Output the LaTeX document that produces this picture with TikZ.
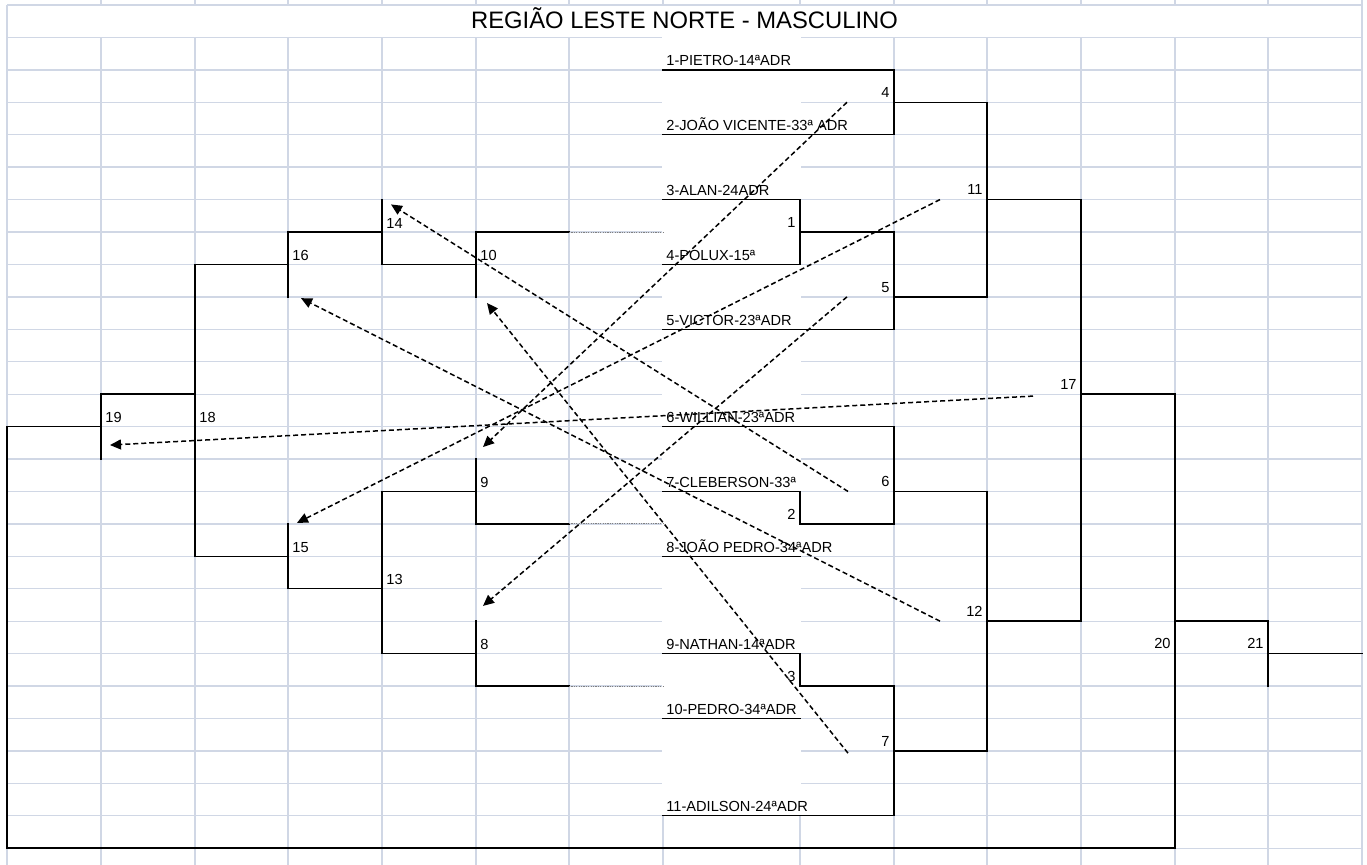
\documentclass[tikz,border=0pt]{standalone}
\usepackage{fontspec}
\setmainfont{Liberation Sans}
\usetikzlibrary{arrows.meta}
\definecolor{gridblue}{RGB}{208,215,229}

\begin{document}
\begin{tikzpicture}[x=0.5pt, y=-16.215pt, font=\fontsize{7.3}{8}\selectfont,
    gridline/.style={draw=gridblue, line width=0.65pt},
    bracket/.style={draw, line width=0.75pt, line join=miter, line cap=rect},
    byeline/.style={draw=gray, line width=0.5pt, dash pattern=on 0.6pt off 0.6pt},
    fixture/.style={draw, line width=0.75pt, dash pattern=on 2.5pt off 1.5pt, -{Triangle[length=5.5pt, width=5pt]}},
    player/.style={anchor=base west, inner sep=0pt},
    gameleft/.style={anchor=base west, inner sep=0pt},
    gameright/.style={anchor=base east, inner sep=0pt}]
        \useasboundingbox (0,-0.154) rectangle (1367,26.518);

        % Grid
        \foreach \k in {0,...,26}
            \draw[gridline] (7,\k) -- (1362,\k);
        \foreach \x in {101,195,288,382,476,569,663,800,894,987,1081,1175,1268} {
            \draw[gridline] (\x,-0.154) -- (\x,0);
            \draw[gridline] (\x,1) -- (\x,26.518);
        }
        \draw[gridline] (7,0) -- (7,26.518);
        \draw[gridline] (1362,-0.154) -- (1362,26.518);
        \fill[white] (661.6,0.98) rectangle (801.4,25);

        \node[anchor=base, inner sep=0pt, font=\fontsize{11.9}{14}\selectfont] (title) at (684.5,0.71) {REGIÃO LESTE NORTE - MASCULINO};

        % Upper half, right side
        \node[player] (p1) at (666,1.88) {1-PIETRO-14ªADR};
        \node[player] (p2) at (666,3.88) {2-JOÃO VICENTE-33ª ADR};
        \node[player] (p3) at (666,5.88) {3-ALAN-24ADR};
        \node[player] (p4) at (666,7.88) {4-POLUX-15ª};
        \node[player] (p5) at (666,9.88) {5-VICTOR-23ªADR};
        \draw[bracket] (663,2) -- (894,2) -- (894,4) -- (663,4);
        \draw[bracket] (894,3) -- (987,3);
        \draw[bracket] (663,6) -- (800,6) -- (800,8) -- (663,8);
        \draw[bracket] (800,7) -- (894,7) -- (894,10) -- (663,10);
        \draw[bracket] (894,9) -- (987,9);
        \draw[bracket] (987,3) -- (987,9);
        \draw[bracket] (987,6) -- (1081,6) -- (1081,19);
        \draw[bracket] (1081,12) -- (1175,12) -- (1175,26);
        \node[gameright] (m4) at (890,2.85) {4};
        \node[gameright] (m1) at (796,6.85) {1};
        \node[gameright] (m5) at (890,8.85) {5};
        \node[gameright] (m11) at (983,5.85) {11};
        \node[gameright] (m17) at (1077,11.85) {17};

        % Lower half, right side
        \node[player] (p6) at (666,12.88) {6-WILLIAN-23ªADR};
        \node[player] (p7) at (666,14.88) {7-CLEBERSON-33ª};
        \node[player] (p8) at (666,16.88) {8-JOÃO PEDRO-34ªADR};
        \node[player] (p9) at (666,19.88) {9-NATHAN-14ªADR};
        \node[player] (p10) at (666,21.88) {10-PEDRO-34ªADR};
        \node[player] (p11) at (666,24.88) {11-ADILSON-24ªADR};
        \draw[bracket] (663,13) -- (894,13) -- (894,16);
        \draw[bracket] (663,15) -- (800,15) -- (800,16) -- (894,16);
        \draw[bracket] (663,17) -- (800,17);
        \draw[bracket] (894,15) -- (987,15);
        \draw[bracket] (663,20) -- (800,20) -- (800,21) -- (894,21);
        \draw[bracket] (663,22) -- (800,22);
        \draw[bracket] (894,21) -- (894,25) -- (663,25);
        \draw[bracket] (894,23) -- (987,23);
        \draw[bracket] (987,15) -- (987,23);
        \draw[bracket] (987,19) -- (1081,19);
        \draw[bracket] (1175,19) -- (1268,19) -- (1268,21);
        \draw[bracket] (1268,20) -- (1362,20);
        \node[gameright] (m6) at (890,14.85) {6};
        \node[gameright] (m2) at (796,15.85) {2};
        \node[gameright] (m3) at (796,20.85) {3};
        \node[gameright] (m7) at (890,22.85) {7};
        \node[gameright] (m12) at (983,18.85) {12};
        \node[gameright] (m20) at (1171,19.85) {20};
        \node[gameright] (m21) at (1264,19.85) {21};

        % Left side
        \draw[bracket] (569,7) -- (476,7) -- (476,9);
        \draw[bracket] (476,8) -- (382,8);
        \draw[bracket] (382,6) -- (382,8);
        \draw[bracket] (382,7) -- (288,7) -- (288,9);
        \draw[bracket] (288,8) -- (195,8) -- (195,17) -- (288,17);
        \draw[bracket] (288,16) -- (288,18) -- (382,18);
        \draw[bracket] (476,14) -- (476,16) -- (569,16);
        \draw[bracket] (476,15) -- (382,15) -- (382,20) -- (476,20);
        \draw[bracket] (476,19) -- (476,21) -- (569,21);
        \draw[bracket] (195,12) -- (101,12) -- (101,14);
        \draw[bracket] (101,13) -- (7,13) -- (7,26) -- (1175,26);
        \draw[byeline] (569,7) -- (663,7);
        \draw[byeline] (569,16) -- (663,16);
        \draw[byeline] (569,21) -- (663,21);
        \node[gameleft] (m10) at (480,7.88) {10};
        \node[gameleft] (m14) at (386,6.88) {14};
        \node[gameleft] (m16) at (292,7.88) {16};
        \node[gameleft] (m18) at (199,12.88) {18};
        \node[gameleft] (m19) at (105,12.88) {19};
        \node[gameleft] (m9) at (480,14.88) {9};
        \node[gameleft] (m15) at (292,16.88) {15};
        \node[gameleft] (m13) at (386,17.88) {13};
        \node[gameleft] (m8) at (480,19.88) {8};

        % Winners carried over
        \coordinate (from4) at (847,3);
        \coordinate (from11) at (940,6);
        \coordinate (from5) at (847,9);
        \coordinate (from17) at (1033,12.06);
        \coordinate (from6) at (848,15);
        \coordinate (from12) at (940,19);
        \coordinate (from7) at (848,23.07);
        \coordinate (to9) at (483,13.63);
        \coordinate (to15) at (297,15.97);
        \coordinate (to8) at (483,18.53);
        \coordinate (to19) at (110,13.57);
        \coordinate (to14) at (391,6.15);
        \coordinate (to16) at (301,9.04);
        \coordinate (to10) at (487,9.19);
        \draw[fixture] (from4) -- (to9);
        \draw[fixture] (from11) -- (to15);
        \draw[fixture] (from5) -- (to8);
        \draw[fixture] (from17) -- (to19);
        \draw[fixture] (from6) -- (to14);
        \draw[fixture] (from12) -- (to16);
        \draw[fixture] (from7) -- (to10);
    \end{tikzpicture}
\end{document}
